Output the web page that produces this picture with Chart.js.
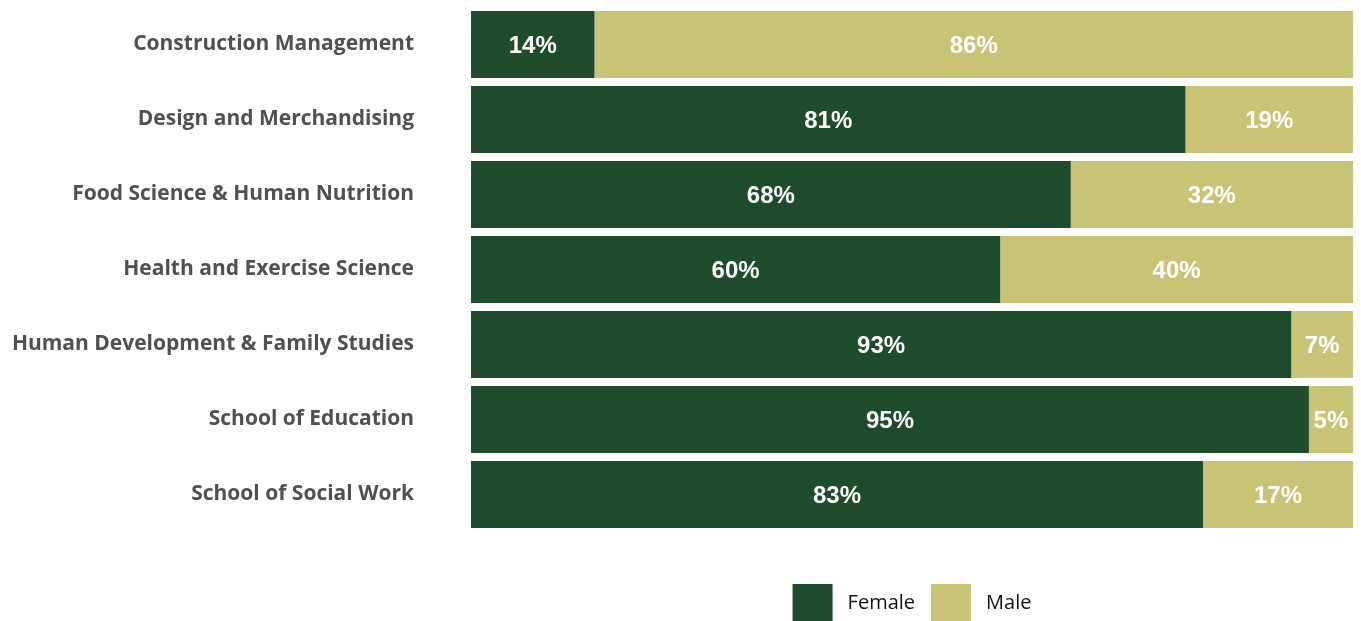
<!DOCTYPE html>
<html><head><meta charset="utf-8">
<script src="https://cdn.jsdelivr.net/npm/chart.js@4/dist/chart.umd.min.js"></script>
<style>html,body{margin:0;padding:0;background:#fff;}#wrap{width:1361px;height:621px;}</style>
</head><body><div id="wrap"><canvas id="c"></canvas></div>
<script>
const categories = ["Construction Management","Design and Merchandising","Food Science & Human Nutrition","Health and Exercise Science","Human Development & Family Studies","School of Education","School of Social Work"];
const female = [14,81,68,60,93,95,83];
const male = [86,19,32,40,7,5,17];
const seriesNames = ["Female","Male"];
const colors = ["#1f4c2c","#c8c375"];

const labelPlugin = {
  id:'barLabels',
  afterDatasetsDraw(chart){
    const ctx = chart.ctx;
    ctx.save();
    ctx.fillStyle = '#ffffff';
    ctx.font = 'bold 24px "Liberation Sans", Arial, sans-serif';
    ctx.textAlign = 'center';
    ctx.textBaseline = 'middle';
    chart.data.datasets.forEach((ds,i)=>{
      chart.getDatasetMeta(i).data.forEach((bar,j)=>{
        const x = (bar.x + bar.base)/2;
        ctx.fillText(ds.data[j] + '%', x, bar.y+2);
      });
    });
    ctx.restore();
  }
};

// legend drawn below the chart area, centred on the plot, from the datasets
const legendPlugin = {
  id:'bottomLegend',
  afterDraw(chart){
    const ctx = chart.ctx, ca = chart.chartArea;
    ctx.save();
    ctx.font = '20px "Open Sans", sans-serif';
    ctx.textBaseline = 'middle';
    const box = 40, boxH = 38, gapText = 15, gapItem = 16;
    const items = chart.data.datasets.map(ds=>({label:ds.label,color:ds.backgroundColor,w:box+gapText+ctx.measureText(ds.label).width}));
    const total = items.reduce((a,b)=>a+b.w,0) + gapItem*(items.length-1);
    let x = (ca.left+ca.right)/2 - total/2;
    const cy = 603;
    items.forEach(it=>{
      ctx.fillStyle = it.color;
      ctx.fillRect(x, cy-boxH/2, box, boxH);
      ctx.fillStyle = '#111';
      ctx.fillText(it.label, x+box+gapText, cy);
      x += it.w + gapItem;
    });
    ctx.restore();
  }
};

new Chart(document.getElementById('c'), {
  type:'bar',
  data:{
    labels: categories,
    datasets:[
      {label:seriesNames[0], data:female, backgroundColor:colors[0], categoryPercentage:1, barPercentage:0.893},
      {label:seriesNames[1], data:male, backgroundColor:colors[1], categoryPercentage:1, barPercentage:0.893}
    ]
  },
  options:{
    indexAxis:'y',
    responsive:true,
    maintainAspectRatio:false,
    animation:false,
    layout:{padding:{top:7,right:8,left:0,bottom:89}},
    scales:{
      x:{stacked:true,min:0,max:100,display:false},
      y:{stacked:true,
         grid:{display:false,drawTicks:false},
         border:{display:false},
         ticks:{padding:57,color:'#505050',font:{family:'"Open Sans", sans-serif',size:21,weight:'bold',lineHeight:1.0}},
         afterFit(s){ s.width = 471; s.paddingTop = 0; s.paddingBottom = 0; }
      }
    },
    plugins:{
      legend:{display:false},
      tooltip:{enabled:false}
    }
  },
  plugins:[labelPlugin, legendPlugin]
});
</script></body></html>
